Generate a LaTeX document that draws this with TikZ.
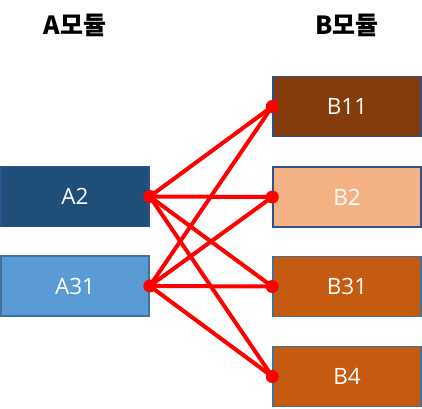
\documentclass[tikz,border=0pt]{standalone}
\usepackage{fontspec}
\setmainfont{Open Sans}
\newfontfamily\krfont{Noto Sans CJK KR}
\definecolor{aone}{HTML}{1F4E79}
\definecolor{atwo}{HTML}{5B9BD5}
\definecolor{bone}{HTML}{843C0C}
\definecolor{btwo}{HTML}{F4B183}
\definecolor{bthree}{HTML}{C55A11}
\definecolor{edgeblue}{HTML}{41719C}
\definecolor{edgedark}{HTML}{2F528F}
\tikzset{
  box/.style={draw=edgeblue, line width=1.5pt, minimum width=148pt, minimum height=60pt, inner sep=0pt, text=white, font=\fontsize{22.5}{26}\selectfont},
  title/.style={font=\krfont\bfseries\fontsize{25}{28}\selectfont, text=black},
  link/.style={draw=red, line width=4pt},
  dotc/.style={circle, fill=red, minimum size=13pt, inner sep=0pt}
}
\begin{document}
\begin{tikzpicture}[x=1pt,y=-1pt]
\useasboundingbox (0,0) rectangle (422,408);
\node[title] (ta) at (75,25) {A모듈};
\node[title] (tb) at (347,25) {B모듈};
\node[box, fill=aone, draw=edgedark] (a2) at (75,196.5) {A2};
\node[box, fill=atwo] (a31) at (75,286) {A31};
\node[box, fill=bone, draw=edgedark] (b11) at (347,106.5) {B11};
\node[box, fill=btwo, draw=edgedark] (b2) at (347,197) {B2};
\node[box, fill=bthree] (b31) at (347,286.5) {B31};
\node[box, fill=bthree] (b4) at (347,376.5) {B4};
\coordinate (pa2) at (a2.east);
\coordinate (pa31) at (a31.east);
\coordinate (pb11) at (b11.west);
\coordinate (pb2) at (b2.west);
\coordinate (pb31) at (b31.west);
\coordinate (pb4) at (b4.west);
\foreach \s in {pa2,pa31}{
  \foreach \t in {pb11,pb2,pb31,pb4}{
    \draw[link] (\s) -- (\t);
  }
}
\foreach \p in {pa2,pa31,pb11,pb2,pb31,pb4}{
  \node[dotc] at (\p) {};
}
\end{tikzpicture}
\end{document}
